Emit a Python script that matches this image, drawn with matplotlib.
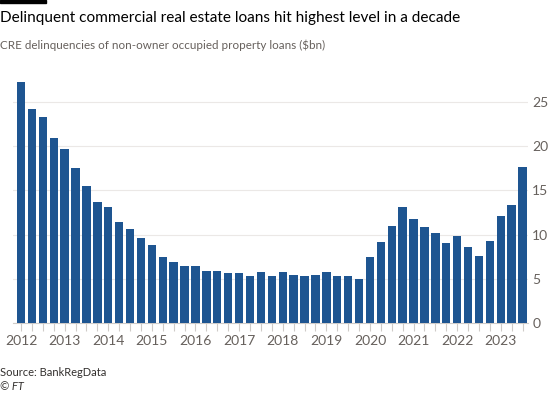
import numpy as np
import matplotlib.pyplot as plt
from matplotlib.ticker import FixedLocator, NullFormatter

# quarterly values, 2012 Q1 .. 2023 Q3 ($bn)
delinq = [27.3, 24.2, 23.3, 20.9, 19.7, 17.5, 15.5, 13.7,
          13.1, 11.4, 10.6, 9.6, 8.8, 7.5, 6.9, 6.4,
          6.4, 5.9, 5.9, 5.6, 5.6, 5.3, 5.7, 5.3,
          5.7, 5.4, 5.3, 5.4, 5.7, 5.3, 5.3, 5.0,
          7.5, 9.2, 11.0, 13.1, 11.8, 10.9, 10.2, 9.0,
          9.8, 8.6, 7.6, 9.3, 12.1, 13.4, 17.7]
years = list(range(2012, 2024))
yticks = [0, 5, 10, 15, 20, 25]

bar_col = '#1e5591'
grid_col = '#ebe8e6'
txt_grey = '#66605c'

plt.rcParams['font.family'] = ['Lato', 'DejaVu Sans']

fig = plt.figure(figsize=(5.5, 3.93), dpi=100)
fig.patch.set_facecolor('white')

ax = fig.add_axes([13/550, 0.179, (528-13)/550, 0.628])
x = np.arange(len(delinq))
ax.bar(x, delinq, width=0.77, color=bar_col, zorder=3)

ax.set_xlim(-0.74, 46.5)
ax.set_ylim(0, 28)

# x axis: years labelled, quarters as minor ticks
ax.xaxis.set_major_locator(FixedLocator(np.arange(0, len(delinq), 4)))
ax.set_xticklabels([str(y) for y in years])
ax.xaxis.set_minor_locator(FixedLocator(x))
ax.xaxis.set_minor_formatter(NullFormatter())
ax.tick_params(axis='x', which='both', length=6, width=0.8, color='#cfcbc8',
               labelsize=10, labelcolor=txt_grey, pad=3)

ax.yaxis.tick_right()
ax.set_yticks(yticks)
ax.tick_params(axis='y', length=0, labelsize=10, labelcolor=txt_grey, pad=3)
ax.grid(axis='y', color=grid_col, linewidth=0.8, zorder=0)

for s in ['top', 'right', 'left']:
    ax.spines[s].set_visible(False)
ax.spines['bottom'].set_color('#cfcbc8')
ax.spines['bottom'].set_linewidth(0.8)

# header / footer
fig.patches.append(plt.Rectangle((0, 1 - 3/393), 46/550, 3/393,
                                 transform=fig.transFigure, color='black'))
fig.text(0, 1 - 18/393, 'Delinquent commercial real estate loans hit highest level in a decade',
         fontsize=11.1, color='#000000', va='center', ha='left')
fig.text(0, 1 - 45/393, 'CRE delinquencies of non-owner occupied property loans ($bn)',
         fontsize=8.4, color=txt_grey, va='center', ha='left')
fig.text(0, 1 - 372/393, 'Source: BankRegData', fontsize=8, color='#33302e',
         va='center', ha='left')
fig.text(0, 1 - 386/393, '© FT', fontsize=8, color='#33302e', style='italic',
         va='center', ha='left')

fig.savefig('out.png', dpi=100, facecolor='white')
